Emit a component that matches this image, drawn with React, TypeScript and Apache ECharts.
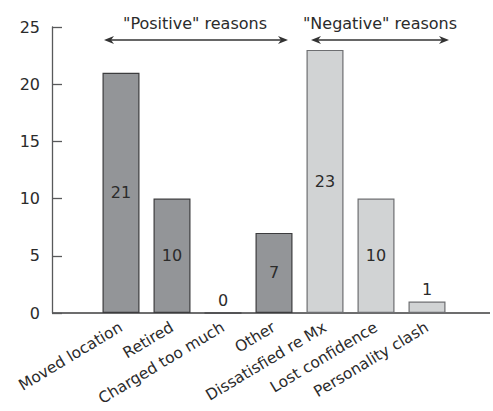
import React, { useEffect, useRef } from "react";
import * as echarts from "echarts";

const categories = [
  "Moved location",
  "Retired",
  "Charged too much",
  "Other",
  "Dissatisfied re Mx",
  "Lost confidence",
  "Personality clash",
];
const counts = [21, 10, 0, 7, 23, 10, 1];
const groups = ["positive", "positive", "positive", "positive", "negative", "negative", "negative"];
const groupTitles = ['"Positive" reasons', '"Negative" reasons'];
const yTicks = [0, 5, 10, 15, 20, 25];

const FONT = "DejaVu Sans";

export default function App() {
  const ref = useRef<HTMLDivElement>(null);
  useEffect(() => {
    if (!ref.current) return;
    const chart = echarts.init(ref.current, undefined, { renderer: "svg" });
    const data = counts.map((v, i) => {
      const pos = groups[i] === "positive";
      return {
        value: v,
        itemStyle: {
          color: pos ? "#939598" : "#d1d3d4",
          borderColor: pos ? "#3c3c3e" : "#6d6e71",
          borderWidth: 1.2,
        },
        label: { position: v <= 2 ? "top" : "inside", distance: 4 },
      };
    });
    const arrowY = 40;
    const arrow = (x1: number, x2: number) => {
      const c = "#333333";
      return [
        { type: "line", shape: { x1: x1 + 4, y1: arrowY, x2: x2 - 4, y2: arrowY }, style: { stroke: c, lineWidth: 1.3 } },
        {
          type: "polygon",
          shape: { points: [[x1, arrowY], [x1 + 10, arrowY - 4], [x1 + 7, arrowY], [x1 + 10, arrowY + 4]] },
          style: { fill: c },
        },
        {
          type: "polygon",
          shape: { points: [[x2, arrowY], [x2 - 10, arrowY - 4], [x2 - 7, arrowY], [x2 - 10, arrowY + 4]] },
          style: { fill: c },
        },
      ];
    };
    const txt = "#2b2b2b";
    chart.setOption({
      animation: false,
      grid: { left: 95.5, right: 40.5, top: 27, bottom: 98, containLabel: false, outerBoundsMode: "none" },
      textStyle: { fontFamily: FONT },
      xAxis: {
        type: "category",
        data: categories,
        axisLine: { show: false },
        axisTick: { show: false },
        axisLabel: {
          rotate: 31,
          interval: 0,
          margin: 13,
          fontFamily: FONT,
          fontSize: 15.5,
          color: txt,
        },
      },
      yAxis: {
        type: "value",
        min: yTicks[0],
        max: yTicks[yTicks.length - 1],
        interval: 5,
        offset: 43.5,
        axisLine: { show: true, lineStyle: { color: "#58595b", width: 1.3 } },
        axisTick: { show: true, inside: true, length: 10, lineStyle: { color: "#58595b", width: 1.3 } },
        splitLine: { show: false },
        axisLabel: { fontFamily: FONT, fontSize: 16, color: txt, margin: 12 },
      },
      series: [
        {
          type: "bar",
          data,
          barWidth: 37,
          label: { show: true, fontFamily: FONT, fontSize: 16, color: txt },
        },
      ],
      graphic: [
        { type: "line", shape: { x1: 52, y1: 313, x2: 490, y2: 313 }, style: { stroke: "#3c3c3e", lineWidth: 1.3 } },
        ...arrow(104, 288),
        ...arrow(311, 449),
        {
          type: "text",
          x: 195,
          y: 23,
          style: { text: groupTitles[0], fontFamily: FONT, fontSize: 16, fill: txt, align: "center", verticalAlign: "middle" },
        },
        {
          type: "text",
          x: 380,
          y: 23,
          style: { text: groupTitles[1], fontFamily: FONT, fontSize: 16, fill: txt, align: "center", verticalAlign: "middle" },
        },
      ],
    });
    return () => chart.dispose();
  }, []);
  return <div ref={ref} style={{ width: 493, height: 411, position: "absolute", left: 0, top: 0 }} />;
}
